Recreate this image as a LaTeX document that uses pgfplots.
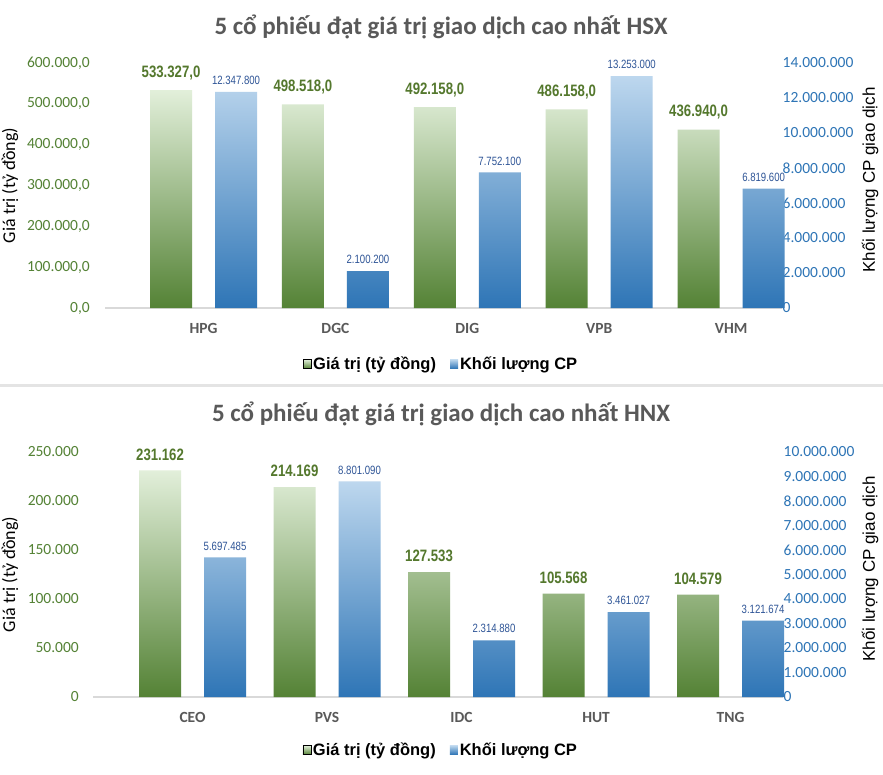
\documentclass[border=0pt]{standalone}
\usepackage{fontspec}
\setmainfont{Carlito}
\newfontfamily\arialf{Liberation Sans}
\newfontfamily\arialn[FakeStretch=0.8]{Liberation Sans}
\usepackage{pgfplots}
\usepackage{pgfplotstable}
\pgfplotsset{compat=1.18}

\definecolor{titlegray}{RGB}{89,89,89}
\definecolor{gtick}{RGB}{84,130,53}
\definecolor{glabel}{RGB}{84,120,45}
\definecolor{btick}{RGB}{46,117,182}
\definecolor{blabel}{RGB}{47,85,151}
\definecolor{gtop}{RGB}{226,239,218}
\definecolor{gbot}{RGB}{84,130,53}
\definecolor{btop}{RGB}{189,215,238}
\definecolor{bbot}{RGB}{46,117,182}
\definecolor{axgray}{RGB}{217,217,217}
\definecolor{sepgray}{RGB}{228,228,228}

\pgfplotstableread{
x val lab
0 533327 533.327,0
1 498518 498.518,0
2 492158 492.158,0
3 486158 486.158,0
4 436940 436.940,0
}\hsxval
\pgfplotstableread{
x vol lab
0 12347800 12.347.800
1 2100200 2.100.200
2 7752100 7.752.100
3 13253000 13.253.000
4 6819600 6.819.600
}\hsxvol
\pgfplotstableread{
x val lab
0 231162 231.162
1 214169 214.169
2 127533 127.533
3 105568 105.568
4 104579 104.579
}\hnxval
\pgfplotstableread{
x vol lab
0 5697485 5.697.485
1 8801090 8.801.090
2 2314880 2.314.880
3 3461027 3.461.027
4 3121674 3.121.674
}\hnxvol

\pgfplotsset{
  base/.style={scale only axis, height=245pt, ymin=0, clip=false,
    major tick length=0pt, scaled y ticks=false,
    y axis line style={draw=none}},
  leftax/.style={base, axis x line*=bottom, axis y line*=left,
    x axis line style={axgray, line width=1.2pt, -},
    xtick={0,1,2,3,4},
    xticklabel style={font=\bfseries\fontsize{15.5}{18}\selectfont, text=titlegray,
      anchor=north, inner sep=0pt, yshift=-15pt},
    yticklabel style={font=\fontsize{15.5}{18}\selectfont, text=gtick,
      anchor=east, inner sep=0pt}},
  rightax/.style={base, axis x line=none, axis y line*=right,
    yticklabel style={font=\fontsize{15.5}{18}\selectfont, text=btick,
      anchor=west, inner sep=0pt, xshift=0.5pt}},
  gbar/.style={ybar, bar width=42pt, bar shift=-32.5pt, draw=none,
    top color=gtop, bottom color=gbot,
    nodes near coords, point meta=explicit symbolic,
    every node near coord/.append style={font=\arialn\bfseries\fontsize{16.5}{18}\selectfont,
      text=glabel, anchor=south, inner sep=0pt, xshift=-32.5pt, yshift=10pt}},
  bbar/.style={ybar, bar width=42pt, bar shift=32.5pt, draw=none,
    top color=btop, bottom color=bbot,
    nodes near coords, point meta=explicit symbolic,
    every node near coord/.append style={font=\arialn\fontsize{12}{14}\selectfont,
      text=blabel, anchor=south, inner sep=0pt, xshift=32.5pt, yshift=7pt},
    legend image code/.code={\fill[top color=btop,bottom color=bbot] (0pt,-4.5pt) rectangle (8pt,4.5pt);}},
  legsty/.style={legend columns=2,
    legend style={draw=none, fill=none, inner sep=0pt, anchor=center,
      font=\arialf\bfseries\fontsize{16.5}{19}\selectfont,
      /tikz/every even column/.append style={column sep=12pt}}},
}

\begin{document}
\begin{tikzpicture}
\path[use as bounding box] (0pt,0pt) rectangle (883pt,-775pt);
\fill[white] (0pt,0pt) rectangle (883pt,-775pt);
\fill[sepgray] (0pt,-384pt) rectangle (883pt,-387pt);

% ---------- top panel (HSX) ----------
\node[font=\bfseries\fontsize{25}{30}\selectfont, text=titlegray, anchor=base] at (441pt,-35pt)
  {5 cổ phiếu đạt giá trị giao dịch cao nhất HSX};
\begin{axis}[leftax, at={(105pt,-308pt)}, anchor=south west, width=677pt,
  xmin=-0.747, xmax=4.386, ymax=600000,
  xticklabels={HPG,DGC,DIG,VPB,VHM},
  ytick={0,100000,200000,300000,400000,500000,600000},
  yticklabels={{0,0},{100.000,0},{200.000,0},{300.000,0},{400.000,0},{500.000,0},{600.000,0}},
  yticklabel style={xshift=-15pt}]
\addplot[gbar] table[x=x, y=val, meta=lab] {\hsxval};
\end{axis}
\begin{axis}[rightax, at={(105pt,-308pt)}, anchor=south west, width=677pt,
  xmin=-0.747, xmax=4.386, ymax=14000000,
  ytick={0,2000000,4000000,6000000,8000000,10000000,12000000,14000000},
  yticklabels={0,2.000.000,4.000.000,6.000.000,8.000.000,10.000.000,12.000.000,14.000.000},
  legsty, legend style={at={(0.4963,-0.2286)}}]
\addlegendimage{legend image code/.code={\fill[top color=gtop,bottom color=gbot] (0pt,-4.5pt) rectangle (8pt,4.5pt);}}
\addlegendentry{Giá trị (tỷ đồng)}
\addplot[bbar] table[x=x, y=vol, meta=lab] {\hsxvol};
\addlegendentry{Khối lượng CP}
\end{axis}
\node[rotate=90, font=\fontsize{18}{20}\selectfont] at (10pt,-185.5pt) {Giá trị (tỷ đồng)};
\node[rotate=90, font=\arialf\fontsize{17}{20}\selectfont] at (870pt,-180pt) {Khối lượng CP giao dịch};

% ---------- bottom panel (HNX) ----------
\node[font=\bfseries\fontsize{25}{30}\selectfont, text=titlegray, anchor=base] at (441pt,-421pt)
  {5 cổ phiếu đạt giá trị giao dịch cao nhất HNX};
\begin{axis}[leftax, at={(93pt,-697pt)}, anchor=south west, width=690pt,
  xmin=-0.74, xmax=4.39, ymax=250000,
  xticklabels={CEO,PVS,IDC,HUT,TNG},
  ytick={0,50000,100000,150000,200000,250000},
  yticklabels={0,50.000,100.000,150.000,200.000,250.000},
  yticklabel style={xshift=-14pt}]
\addplot[gbar] table[x=x, y=val, meta=lab] {\hnxval};
\end{axis}
\begin{axis}[rightax, at={(93pt,-697pt)}, anchor=south west, width=690pt,
  xmin=-0.74, xmax=4.39, ymax=10000000,
  ytick={0,1000000,2000000,3000000,4000000,5000000,6000000,7000000,8000000,9000000,10000000},
  yticklabels={0,1.000.000,2.000.000,3.000.000,4.000.000,5.000.000,6.000.000,7.000.000,8.000.000,9.000.000,10.000.000},
  legsty, legend style={at={(0.504,-0.2163)}}]
\addlegendimage{legend image code/.code={\fill[top color=gtop,bottom color=gbot] (0pt,-4.5pt) rectangle (8pt,4.5pt);}}
\addlegendentry{Giá trị (tỷ đồng)}
\addplot[bbar] table[x=x, y=vol, meta=lab] {\hnxvol};
\addlegendentry{Khối lượng CP}
\end{axis}
\node[rotate=90, font=\fontsize{18}{20}\selectfont] at (10pt,-574.5pt) {Giá trị (tỷ đồng)};
\node[rotate=90, font=\arialf\fontsize{17}{20}\selectfont] at (870pt,-569pt) {Khối lượng CP giao dịch};
\end{tikzpicture}
\end{document}
